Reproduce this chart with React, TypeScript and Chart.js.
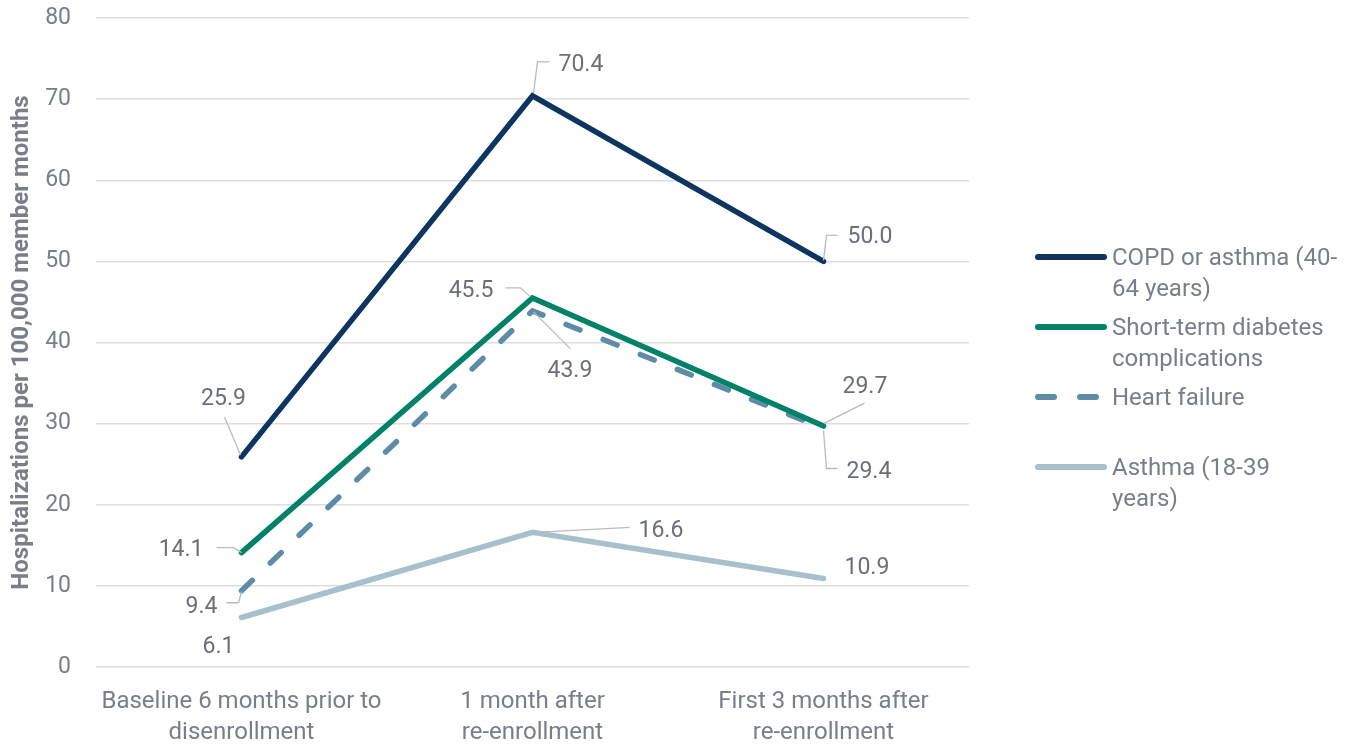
import React, { useEffect, useRef } from "react";
import { Chart, registerables } from "chart.js";

Chart.register(...registerables);

const categories: string[][] = [
  ["Baseline 6 months prior to", "disenrollment"],
  ["1 month after", "re-enrollment"],
  ["First 3 months after", "re-enrollment"],
];
const copd = [25.9, 70.4, 50.0];
const diabetes = [14.1, 45.5, 29.7];
const heartFailure = [9.4, 43.9, 29.4];
const asthma = [6.1, 16.6, 10.9];

const seriesNames = [
  ["COPD or asthma (40-", "64 years)"],
  ["Short-term diabetes", "complications"],
  ["Heart failure"],
  ["Asthma (18-39", "years)"],
];
const yMin = 0;
const yMax = 80;
const yStep = 10;
const yTitle = "Hospitalizations per 100,000 member months";

const colors = ["#0e3560", "#008269", "#5e8ba5", "#a8c0cc"];
const FONT = "Roboto";
const TICK_COLOR = "#7a7e89";
const LABEL_COLOR = "#6c6f7a";
const LEADER_COLOR = "#b9bbbf";
const TEXT_NUDGE = 2;

type Placement = { dx: number; dy: number; align: CanvasTextAlign; leader: number[][] | null };
const placements: Placement[][] = [
  [
    { dx: -18, dy: -60, align: "center", leader: [[-1, -2], [-17, -40]] },
    { dx: 26, dy: -33, align: "left", leader: [[1, -3], [5, -34], [17, -34]] },
    { dx: 24, dy: -26, align: "left", leader: [[0, -1], [3, -26], [14, -26]] },
  ],
  [
    { dx: -38, dy: -4, align: "right", leader: [[0, 0], [-8, -5], [-25, -5]] },
    { dx: -39, dy: -9, align: "right", leader: [[-2, -1], [-12, -10], [-27, -10]] },
    { dx: 19, dy: -41, align: "left", leader: [[1, -3], [41, -23]] },
  ],
  [
    { dx: -24, dy: 15, align: "right", leader: [[0, 1], [-3, 12], [-15, 12]] },
    { dx: 15, dy: 58, align: "left", leader: [[1, 1], [38, 38]] },
    { dx: 23, dy: 41.5, align: "left", leader: [[0, 2], [3, 40], [14, 40]] },
  ],
  [
    { dx: -23, dy: 27.5, align: "center", leader: null },
    { dx: 106, dy: -3, align: "left", leader: [[3, 0], [97, -5]] },
    { dx: 21, dy: -12.6, align: "left", leader: null },
  ],
];

const labelPlugin = {
  id: "customLabels",
  afterDatasetsDraw(chart: any) {
    const ctx = chart.ctx as CanvasRenderingContext2D;
    ctx.save();
    chart.data.datasets.forEach((ds: any, i: number) => {
      const meta = chart.getDatasetMeta(i);
      meta.data.forEach((el: any, j: number) => {
        const p = placements[i][j];
        const x = el.x;
        const y = el.y;
        if (p.leader) {
          ctx.beginPath();
          ctx.strokeStyle = LEADER_COLOR;
          ctx.lineWidth = 1.3;
          ctx.setLineDash([]);
          p.leader.forEach((pt, k) => {
            if (k === 0) ctx.moveTo(x + pt[0], y + pt[1]);
            else ctx.lineTo(x + pt[0], y + pt[1]);
          });
          ctx.stroke();
        }
        ctx.fillStyle = LABEL_COLOR;
        ctx.font = `23px ${FONT}`;
        ctx.textAlign = p.align;
        ctx.textBaseline = "middle";
        ctx.fillText(Number(ds.data[j]).toFixed(1), x + p.dx, y + p.dy + TEXT_NUDGE);
      });
    });
    ctx.restore();
  },
  afterDraw(chart: any) {
    const ctx = chart.ctx as CanvasRenderingContext2D;
    const area = chart.chartArea;
    ctx.save();
    // y axis title
    ctx.translate(22, (area.top + area.bottom) / 2);
    ctx.rotate(-Math.PI / 2);
    ctx.font = `bold 24px ${FONT}`;
    ctx.fillStyle = TICK_COLOR;
    ctx.textAlign = "center";
    ctx.textBaseline = "middle";
    ctx.fillText(yTitle, 0, 0);
    ctx.restore();

    // legend
    ctx.save();
    const itemY = [257, 327, 397, 467];
    const x0 = area.right + 66;
    const x1 = area.right + 138;
    const tx = area.right + 143;
    chart.data.datasets.forEach((ds: any, i: number) => {
      const yy = itemY[i];
      ctx.beginPath();
      ctx.strokeStyle = colors[i];
      ctx.lineWidth = 6;
      ctx.lineCap = "round";
      ctx.setLineDash(i === 2 ? [16, 26] : []);
      ctx.moveTo(x0 + 3, yy);
      ctx.lineTo(x1 - 3, yy);
      ctx.stroke();
      ctx.setLineDash([]);
      ctx.fillStyle = TICK_COLOR;
      ctx.font = `24px ${FONT}`;
      ctx.textAlign = "left";
      ctx.textBaseline = "middle";
      seriesNames[i].forEach((line, k) => {
        ctx.fillText(line, tx, yy + k * 31 + TEXT_NUDGE);
      });
    });
    ctx.restore();
  },
};

export default function App() {
  const ref = useRef<HTMLCanvasElement>(null);
  useEffect(() => {
    if (!ref.current) return;
    const mk = (data: number[], i: number, dash: number[] = []) => ({
      label: seriesNames[i].join(" "),
      data,
      borderColor: colors[i],
      backgroundColor: colors[i],
      borderWidth: 5.5,
      borderDash: dash,
      borderCapStyle: "round" as const,
      pointRadius: 0,
      pointHoverRadius: 0,
      tension: 0,
      fill: false,
    });
    const chart = new Chart(ref.current, {
      type: "line",
      data: {
        labels: categories,
        datasets: [
          mk(copd, 0),
          mk(diabetes, 1),
          mk(heartFailure, 2, [15, 25]),
          mk(asthma, 3),
        ],
      },
      options: {
        responsive: false,
        animation: false,
        layout: { padding: { top: 18, right: 385, left: 0, bottom: 0 } },
        plugins: {
          legend: { display: false },
          tooltip: { enabled: false },
        },
        scales: {
          x: {
            offset: true,
            grid: { display: false, drawTicks: false },
            border: { display: false },
            ticks: {
              color: TICK_COLOR,
              font: { family: FONT, size: 24, lineHeight: 1.3 },
              padding: 19,
              maxRotation: 0,
              autoSkip: false,
            },
            afterFit: (s: any) => {
              s.height = 77;
              s.paddingLeft = 0;
              s.paddingRight = 0;
            },
          },
          y: {
            min: yMin,
            max: yMax,
            grid: { color: "#dcdde1", lineWidth: 1.5, drawTicks: false },
            border: { display: false },
            ticks: {
              stepSize: yStep,
              color: TICK_COLOR,
              font: { family: FONT, size: 23 },
              padding: 25,
            },
            afterFit: (s: any) => {
              s.width = 96;
              s.paddingTop = 0;
              s.paddingBottom = 0;
            },
          },
        },
      },
      plugins: [labelPlugin],
    });
    return () => chart.destroy();
  }, []);
  return (
    <div style={{ position: "absolute", left: 0, top: 0, width: 1354, height: 744, background: "#fff" }}>
      <canvas ref={ref} width={1354} height={744} style={{ display: "block" }} />
    </div>
  );
}
